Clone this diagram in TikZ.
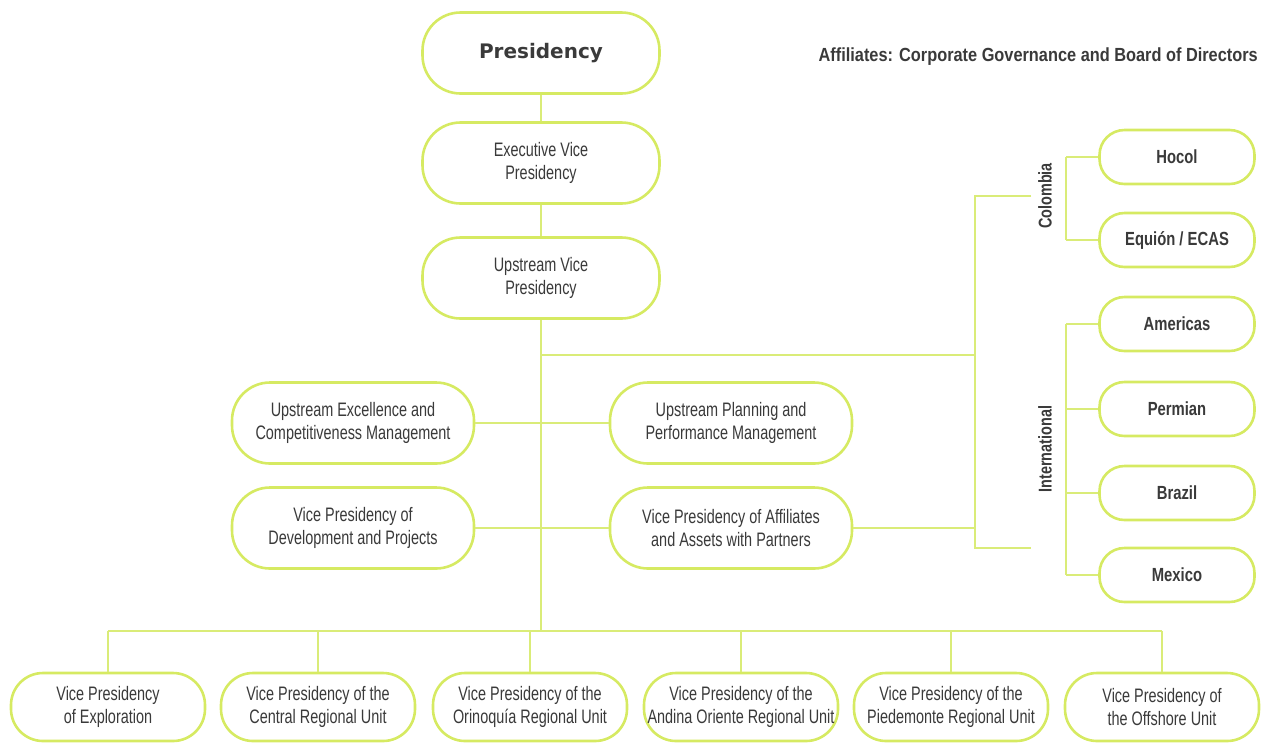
\documentclass[tikz,border=0pt]{standalone}
\usepackage{fontspec}
\setmainfont{Liberation Sans}
\newfontfamily\condf[FakeStretch=0.74]{Liberation Sans}
\newfontfamily\condb[FakeStretch=0.78]{Liberation Sans Bold}
\newfontfamily\titlef[FakeStretch=0.86]{Liberation Sans Bold}
\newfontfamily\presf{DejaVu Sans Bold}
\definecolor{limeb}{RGB}{214,234,98}
\definecolor{limel}{RGB}{218,236,120}
\definecolor{txt}{RGB}{58,58,58}
\begin{document}
\begin{tikzpicture}[x=1pt,y=-1pt,
  box/.style={draw=limeb, line width=2.6pt, fill=white, align=center, text=txt,
    font=\condf\fontsize{19.5}{23}\selectfont, inner sep=0pt},
  bigbox/.style={box, minimum width=237pt, minimum height=81pt, rounded corners=38pt},
  midbox/.style={box, minimum width=242pt, minimum height=81pt, rounded corners=38pt},
  botbox/.style={box, minimum width=194pt, minimum height=68pt, rounded corners=32pt},
  smallbox/.style={box, minimum width=155pt, minimum height=54pt, rounded corners=25pt,
    font=\condb\fontsize{19}{22}\selectfont},
  conn/.style={draw=limel, line width=1.5pt},
  lab/.style={text=txt, font=\condb\fontsize{18.5}{21}\selectfont, inner sep=0pt}]
\useasboundingbox (0,0) rectangle (1265,748);

% main column
\node[bigbox, font=\presf\fontsize{20}{24}\selectfont] (pres) at (541,53) {Presidency};
\node[bigbox] (evp) at (541,163) {Executive Vice\\Presidency};
\node[bigbox] (uvp) at (541,278) {Upstream Vice\\Presidency};

\node[midbox] (uex) at (353,423) {Upstream Excellence and\\Competitiveness Management};
\node[midbox] (upl) at (731,423) {Upstream Planning and\\Performance Management};
\node[midbox] (vdev) at (353,528) {Vice Presidency of\\Development and Projects};
\node[midbox] (vaff) at (731,528) {Vice Presidency of Affiliates\\and Assets with Partners};

% bottom row
\node[botbox] (b1) at (108,707) {Vice Presidency\\of Exploration};
\node[botbox] (b2) at (318,707) {Vice Presidency of the\\Central Regional Unit};
\node[botbox] (b3) at (530,707) {Vice Presidency of the\\Orinoquía Regional Unit};
\node[botbox] (b4) at (741,707) {Vice Presidency of the\\Andina Oriente Regional Unit};
\node[botbox] (b5) at (951,707) {Vice Presidency of the\\Piedemonte Regional Unit};
\node[botbox] (b6) at (1162,707) {Vice Presidency of\\the Offshore Unit};

% right column
\node[smallbox] (hocol) at (1177,157) {Hocol};
\node[smallbox] (equion) at (1177,240) {Equión / ECAS};
\node[smallbox] (amer) at (1177,324) {Americas};
\node[smallbox] (perm) at (1177,409) {Permian};
\node[smallbox] (braz) at (1177,493) {Brazil};
\node[smallbox] (mex) at (1177,575) {Mexico};

% title and labels
\node[lab, anchor=east, font=\titlef\fontsize{19}{22}\selectfont] (title) at (1258,57) {Affiliates: Corporate Governance and Board of Directors};
\node[lab, rotate=90] (col) at (1045,196) {Colombia};
\node[lab, rotate=90] (intl) at (1045,449) {International};

% coordinates
\coordinate (bus) at (541,631);
\coordinate (busL) at (108,631);
\coordinate (busR) at (1162,631);
\coordinate (j1) at (541,355);
\coordinate (r1) at (975,355);
\coordinate (rt) at (975,196);
\coordinate (rb) at (975,548);
\coordinate (rtE) at (1031,196);
\coordinate (rbE) at (1031,548);
\coordinate (ra) at (975,528);
\coordinate (cT) at (1066,157);
\coordinate (cB) at (1066,240);
\coordinate (iT) at (1066,324);
\coordinate (iB) at (1066,575);
\coordinate (i2) at (1066,409);
\coordinate (i3) at (1066,493);
\coordinate (d2) at (318,631);
\coordinate (d3) at (530,631);
\coordinate (d4) at (741,631);
\coordinate (d5) at (951,631);

% connectors
\path[conn] (pres.south) -- (evp.north);
\path[conn] (evp.south) -- (uvp.north);
\path[conn] (uvp.south) -- (bus);
\path[conn] (j1) -- (r1);
\path[conn] (uex.east) -- (upl.west);
\path[conn] (vdev.east) -- (vaff.west);
\path[conn] (vaff.east) -- (ra);
\path[conn] (rtE) -- (rt) -- (rb) -- (rbE);
\path[conn] (cT) -- (cB);
\path[conn] (cT) -- (hocol.west);
\path[conn] (cB) -- (equion.west);
\path[conn] (iT) -- (iB);
\path[conn] (iT) -- (amer.west);
\path[conn] (i2) -- (perm.west);
\path[conn] (i3) -- (braz.west);
\path[conn] (iB) -- (mex.west);
\path[conn] (busL) -- (busR);
\path[conn] (busL) -- (b1.north);
\path[conn] (d2) -- (b2.north);
\path[conn] (d3) -- (b3.north);
\path[conn] (d4) -- (b4.north);
\path[conn] (d5) -- (b5.north);
\path[conn] (busR) -- (b6.north);
\end{tikzpicture}
\end{document}
